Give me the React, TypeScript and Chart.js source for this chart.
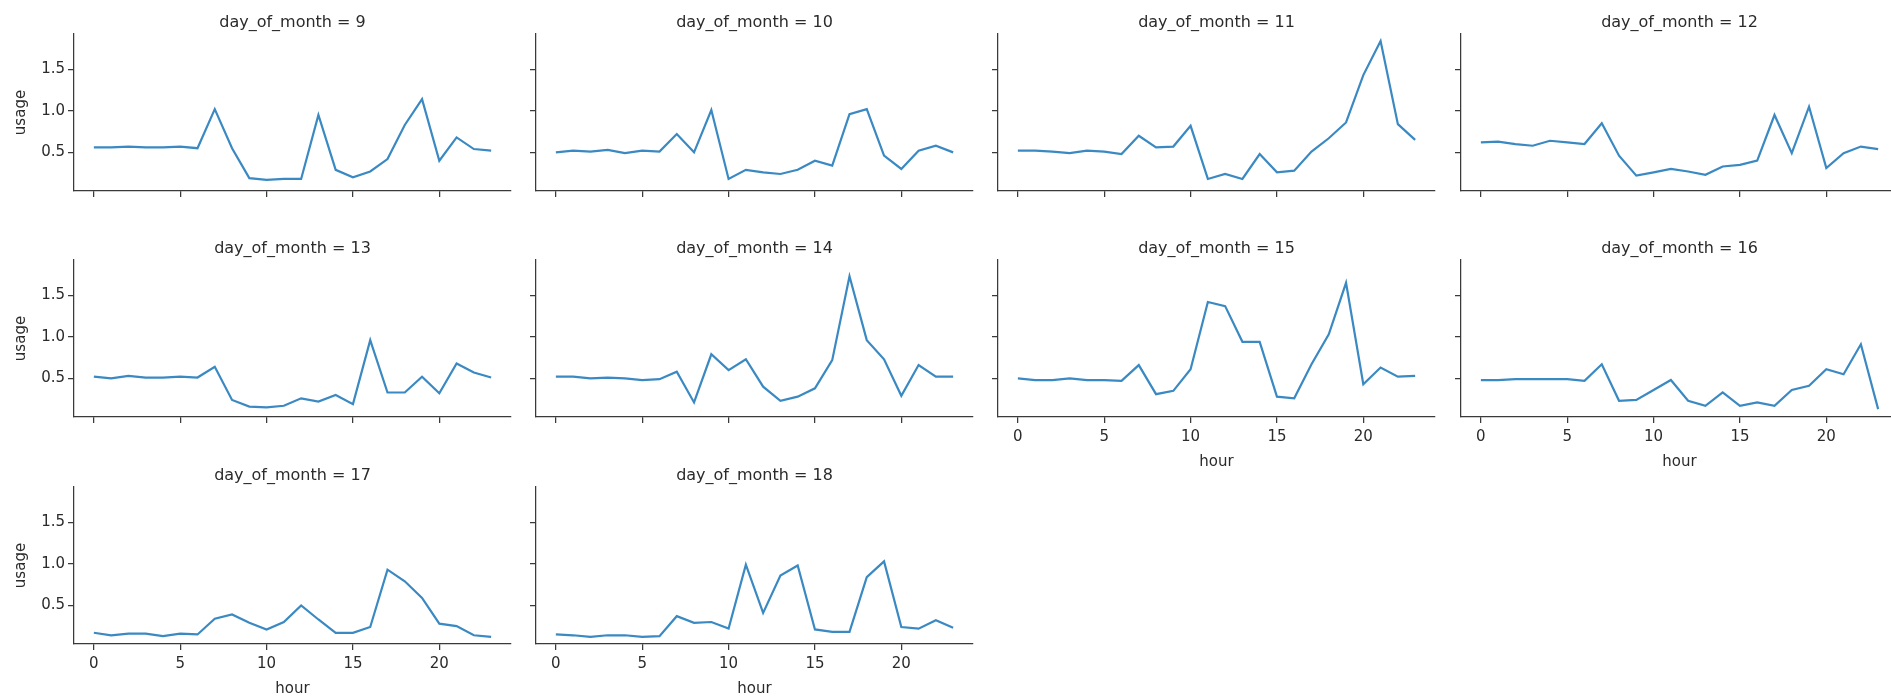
import React, { useEffect, useRef } from "react";
import { Chart, registerables } from "chart.js";

Chart.register(...registerables);

const HOURS = [0, 1, 2, 3, 4, 5, 6, 7, 8, 9, 10, 11, 12, 13, 14, 15, 16, 17, 18, 19, 20, 21, 22, 23];
const DAYS = [9, 10, 11, 12, 13, 14, 15, 16, 17, 18];

const USAGE_D9 = [0.56, 0.56, 0.57, 0.56, 0.56, 0.57, 0.55, 1.02, 0.55, 0.19, 0.17, 0.18, 0.18, 0.95, 0.29, 0.2, 0.27, 0.42, 0.83, 1.14, 0.4, 0.68, 0.54, 0.52];
const USAGE_D10 = [0.5, 0.52, 0.51, 0.53, 0.49, 0.52, 0.51, 0.72, 0.5, 1.01, 0.18, 0.29, 0.26, 0.24, 0.29, 0.4, 0.34, 0.96, 1.02, 0.46, 0.3, 0.52, 0.58, 0.5];
const USAGE_D11 = [0.52, 0.52, 0.51, 0.49, 0.52, 0.51, 0.48, 0.7, 0.56, 0.57, 0.82, 0.18, 0.24, 0.18, 0.48, 0.26, 0.28, 0.51, 0.67, 0.86, 1.43, 1.84, 0.84, 0.65];
const USAGE_D12 = [0.62, 0.63, 0.6, 0.58, 0.64, 0.62, 0.6, 0.85, 0.46, 0.22, 0.26, 0.3, 0.27, 0.23, 0.33, 0.35, 0.4, 0.95, 0.49, 1.05, 0.31, 0.49, 0.57, 0.54];
const USAGE_D13 = [0.52, 0.5, 0.53, 0.51, 0.51, 0.52, 0.51, 0.64, 0.24, 0.16, 0.15, 0.17, 0.26, 0.22, 0.3, 0.19, 0.96, 0.33, 0.33, 0.52, 0.32, 0.68, 0.57, 0.51];
const USAGE_D14 = [0.52, 0.52, 0.5, 0.51, 0.5, 0.48, 0.49, 0.58, 0.21, 0.79, 0.6, 0.73, 0.4, 0.23, 0.28, 0.38, 0.72, 1.73, 0.96, 0.73, 0.29, 0.66, 0.52, 0.52];
const USAGE_D15 = [0.5, 0.48, 0.48, 0.5, 0.48, 0.48, 0.47, 0.66, 0.31, 0.35, 0.61, 1.42, 1.37, 0.94, 0.94, 0.28, 0.26, 0.67, 1.03, 1.65, 0.43, 0.63, 0.52, 0.53];
const USAGE_D16 = [0.48, 0.48, 0.49, 0.49, 0.49, 0.49, 0.47, 0.67, 0.23, 0.24, 0.36, 0.48, 0.23, 0.17, 0.33, 0.17, 0.21, 0.17, 0.36, 0.41, 0.61, 0.55, 0.91, 0.13];
const USAGE_D17 = [0.17, 0.14, 0.16, 0.16, 0.13, 0.16, 0.15, 0.34, 0.39, 0.29, 0.21, 0.3, 0.5, 0.33, 0.17, 0.17, 0.24, 0.93, 0.79, 0.59, 0.28, 0.25, 0.14, 0.12];
const USAGE_D18 = [0.15, 0.14, 0.12, 0.14, 0.14, 0.12, 0.13, 0.37, 0.29, 0.3, 0.22, 0.99, 0.41, 0.86, 0.98, 0.21, 0.18, 0.18, 0.84, 1.03, 0.24, 0.22, 0.32, 0.23];

const SERIES = [USAGE_D9, USAGE_D10, USAGE_D11, USAGE_D12, USAGE_D13, USAGE_D14, USAGE_D15, USAGE_D16, USAGE_D17, USAGE_D18];

const X_TICKS = [0, 5, 10, 15, 20];
const Y_TICKS = [0.5, 1.0, 1.5];

const X_MIN = -1.15;
const X_MAX = 24.15;
const Y_MIN = 0.035;
const Y_MAX = 1.925;

const COL_LEFT = [74, 536, 998, 1461];
const ROW_TOP = [34, 260, 487];
const PW = 437;
const PH = 157;
const PAD_L = 74;
const PAD_T = 34;
const PAD_R = 12;
const PAD_B = 72;

const LINE_COLOR = "#3a89c2";
const INK = "#2b2b2b";
const SPINE = "#3a3a3a";
const FONT = "'DejaVu Sans', sans-serif";

function Panel({ idx }: { idx: number }) {
  const ref = useRef<HTMLCanvasElement | null>(null);
  const row = Math.floor(idx / 4);
  const col = idx % 4;
  const showY = col === 0;
  const showX = idx >= 6;

  useEffect(() => {
    const canvas = ref.current;
    if (!canvas) return;
    const facetPlugin = {
      id: "facetText",
      afterDraw(chart: any) {
        const { ctx, chartArea } = chart;
        ctx.save();
        ctx.fillStyle = INK;
        ctx.font = `16px ${FONT}`;
        ctx.textAlign = "center";
        ctx.textBaseline = "alphabetic";
        ctx.fillText(`day_of_month = ${DAYS[idx]}`, (chartArea.left + chartArea.right) / 2, chartArea.top - 7);
        ctx.font = `15px ${FONT}`;
        if (showY) {
          ctx.save();
          ctx.translate(21, (chartArea.top + chartArea.bottom) / 2);
          ctx.rotate(-Math.PI / 2);
          ctx.textBaseline = "middle";
          ctx.fillText("usage", 0, 0);
          ctx.restore();
        }
        if (showX) {
          ctx.textBaseline = "middle";
          ctx.fillText("hour", (chartArea.left + chartArea.right) / 2, chartArea.bottom + 45);
        }
        ctx.restore();
      },
    };
    const chart = new Chart(canvas, {
      type: "line",
      data: {
        datasets: [
          {
            data: HOURS.map((h, i) => ({ x: h, y: SERIES[idx][i] })),
            borderColor: LINE_COLOR,
            borderWidth: 2.2,
            pointRadius: 0,
            tension: 0,
            fill: false,
          },
        ],
      },
      options: {
        responsive: false,
        animation: false,
        devicePixelRatio: 1,
        layout: { padding: { left: 0, top: PAD_T, right: PAD_R, bottom: 0 } },
        plugins: { legend: { display: false }, tooltip: { enabled: false }, title: { display: false } },
        scales: {
          x: {
            type: "linear",
            min: X_MIN,
            max: X_MAX,
            afterBuildTicks: (s: any) => {
              s.ticks = X_TICKS.map((v) => ({ value: v }));
            },
            afterFit: (s: any) => {
              s.height = PAD_B;
            },
            grid: { drawOnChartArea: false, drawTicks: true, tickLength: 6, color: SPINE, lineWidth: 1.25 },
            border: { display: true, color: SPINE, width: 1.25 },
            ticks: {
              autoSkip: false,
              maxRotation: 0,
              padding: 5,
              color: INK,
              font: { family: FONT, size: 15 },
              callback: (v: any) => (showX ? String(v) : ""),
            },
          },
          y: {
            type: "linear",
            min: Y_MIN,
            max: Y_MAX,
            afterBuildTicks: (s: any) => {
              s.ticks = Y_TICKS.map((v) => ({ value: v }));
            },
            afterFit: (s: any) => {
              s.width = PAD_L;
            },
            grid: { drawOnChartArea: false, drawTicks: true, tickLength: 6, color: SPINE, lineWidth: 1.25 },
            border: { display: true, color: SPINE, width: 1.25 },
            ticks: {
              autoSkip: false,
              padding: 3,
              color: INK,
              font: { family: FONT, size: 15 },
              callback: (v: any) => (showY ? Number(v).toFixed(1) : ""),
            },
          },
        },
      },
      plugins: [facetPlugin],
    } as any);
    return () => chart.destroy();
  }, [idx]);

  const w = PAD_L + PW + PAD_R;
  const h = PAD_T + PH + PAD_B;
  return (
    <canvas
      ref={ref}
      width={w}
      height={h}
      style={{ position: "absolute", left: COL_LEFT[col] - PAD_L, top: ROW_TOP[row] - PAD_T, width: w, height: h }}
    />
  );
}

export default function App() {
  return (
    <div
      style={{
        position: "absolute",
        left: 0,
        top: 0,
        width: 1891,
        height: 696,
        overflow: "hidden",
        background: "#ffffff",
      }}
    >
      {DAYS.map((d, i) => (
        <Panel key={d} idx={i} />
      ))}
    </div>
  );
}
